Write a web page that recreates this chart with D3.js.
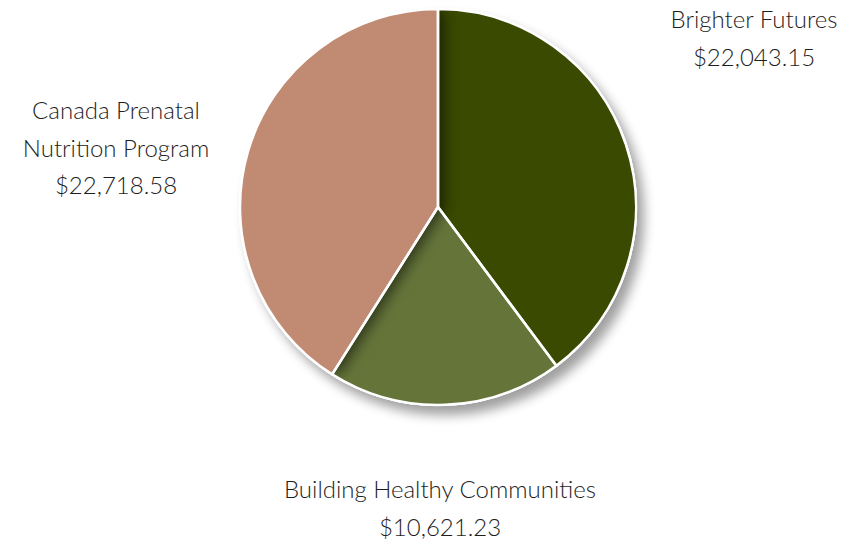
<!DOCTYPE html>
<html><head><meta charset="utf-8">
<script src="https://cdn.jsdelivr.net/npm/d3@7"></script>
<style>html,body{margin:0;padding:0;background:#fff;}svg{display:block;}</style>
</head><body>
<svg id="chart" width="843" height="542"></svg>
<script>
const categories = ["Brighter Futures", "Building Healthy Communities", "Canada Prenatal Nutrition Program"];
const values = [22043.15, 10621.23, 22718.58];
const valueLabels = ["$22,043.15", "$10,621.23", "$22,718.58"];
const colors = ["#3a4a00", "#65753a", "#c18b73"];

const svg = d3.select("#chart");
const cx = 438, cy = 207, r = 198;
const defs = svg.append("defs");
const ds = defs.append("filter").attr("id","drop").attr("x","-20%").attr("y","-20%").attr("width","140%").attr("height","140%");
ds.append("feGaussianBlur").attr("in","SourceAlpha").attr("stdDeviation",6).attr("result","b");
ds.append("feOffset").attr("in","b").attr("dx",7).attr("dy",9).attr("result","o");
ds.append("feComponentTransfer").attr("in","o").attr("result","o2").append("feFuncA").attr("type","linear").attr("slope",0.38);
const m = ds.append("feMerge"); m.append("feMergeNode").attr("in","o2"); m.append("feMergeNode").attr("in","SourceGraphic");

const blur = defs.append("filter").attr("id","blur").attr("x","-30%").attr("y","-30%").attr("width","160%").attr("height","160%");
blur.append("feGaussianBlur").attr("stdDeviation",7);

const pie = d3.pie().sort(null).value(d => d)(values);
const arc = d3.arc().innerRadius(0).outerRadius(r);
const g = svg.append("g").attr("transform",`translate(${cx},${cy})`);
g.append("circle").attr("r",r+1).attr("fill","#fff").attr("filter","url(#drop)");
g.selectAll("path.s").data(pie).enter().append("path").attr("class","s")
  .attr("d",arc).attr("fill",(d,i)=>colors[i]);

// shadow of the Canada slice cast onto the other slices
const clip = defs.append("clipPath").attr("id","others");
clip.selectAll("path").data(pie.slice(0,2)).enter().append("path").attr("d",arc);
g.append("g").attr("clip-path","url(#others)")
  .append("path").attr("d",arc(pie[2])).attr("fill","#000").attr("opacity",0.55)
  .attr("transform","translate(6,2)").attr("filter","url(#blur)");

g.selectAll("path.e").data(pie).enter().append("path").attr("class","e")
  .attr("d",arc).attr("fill","none").attr("stroke","#fff").attr("stroke-width",2.5).attr("stroke-linejoin","round");

const labels = [
  {lines:["Brighter Futures", valueLabels[0]], x:754, y:28},
  {lines:["Building Healthy Communities", valueLabels[1]], x:440, y:498},
  {lines:["Canada Prenatal","Nutrition Program", valueLabels[2]], x:116, y:119}
];
labels.forEach(l => {
  const t = svg.append("text").attr("x",l.x).attr("y",l.y).attr("text-anchor","middle")
    .attr("font-family","Lato, 'Open Sans', sans-serif").attr("font-weight",300)
    .attr("font-size",24).attr("fill","#1e1e1e");
  l.lines.forEach((s,i)=> t.append("tspan").attr("x",l.x).attr("dy", i===0?0:37.5).text(s));
});
</script>
</body></html>
